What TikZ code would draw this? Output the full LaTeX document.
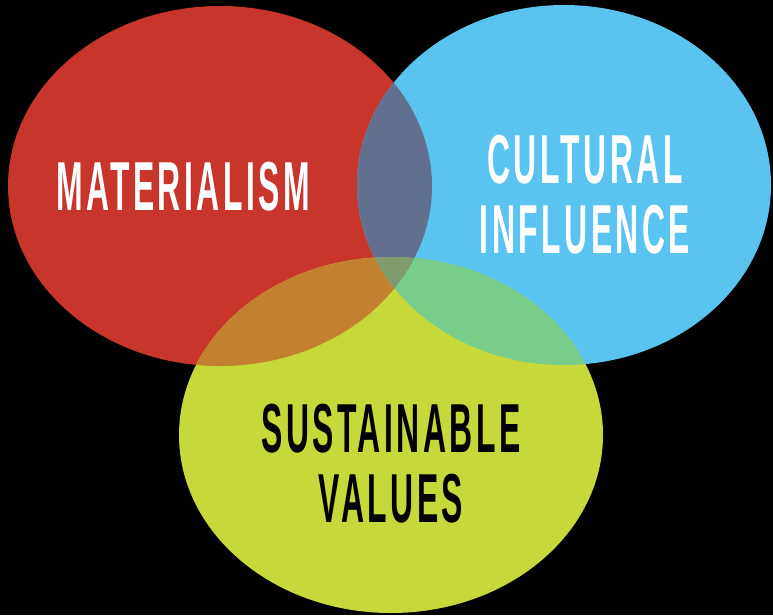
\documentclass[tikz,border=0pt]{standalone}
\usepackage{fontspec}
\setmainfont[FakeStretch=0.46, LetterSpace=5]{Liberation Sans}
\usepackage{tikz}
\usetikzlibrary{positioning}

\definecolor{matred}{HTML}{C8352B}
\definecolor{culblue}{HTML}{5AC3F0}
\definecolor{susgreen}{HTML}{C6D83A}
\definecolor{rbmix}{HTML}{627090}
\definecolor{rgmix}{HTML}{C28030}
\definecolor{bgmix}{HTML}{78CD8A}
\definecolor{allmix}{HTML}{7E9A6E}

\newcommand{\redset}{(220,186) ellipse [x radius=212, y radius=180]}
\newcommand{\blueset}{(564,185) ellipse [x radius=207, y radius=180]}
\newcommand{\greenset}{(391,435) ellipse [x radius=212, y radius=178]}

\begin{document}
\begin{tikzpicture}[
    x=0.75pt, y=-0.75pt,
    label/.style={font=\bfseries\fontsize{52}{52.5}\selectfont, align=center, anchor=base, inner sep=0pt},
    white label/.style={label, text=white},
    dark label/.style={label, text=black}
]

% Background
\fill[black] (0,0) rectangle (773,615);
\useasboundingbox (0,0) rectangle (773,615);

% Sets
\fill[matred] \redset;
\fill[culblue] \blueset;
\fill[susgreen] \greenset;

% Pairwise overlaps
\begin{scope}
  \clip \redset;
  \fill[rbmix] \blueset;
  \fill[rgmix] \greenset;
\end{scope}
\begin{scope}
  \clip \blueset;
  \fill[bgmix] \greenset;
\end{scope}

% Centre
\begin{scope}
  \clip \redset;
  \clip \blueset;
  \fill[allmix] \greenset;
\end{scope}

% Labels (base = last line)
\node[white label] (materialism) at (183,210) {MATERIALISM};
\node[white label] (cultural) at (585,253) {CULTURAL\\INFLUENCE};
\node[dark label] (sustainable) at (391,522) {SUSTAINABLE\\VALUES};

\end{tikzpicture}
\end{document}
